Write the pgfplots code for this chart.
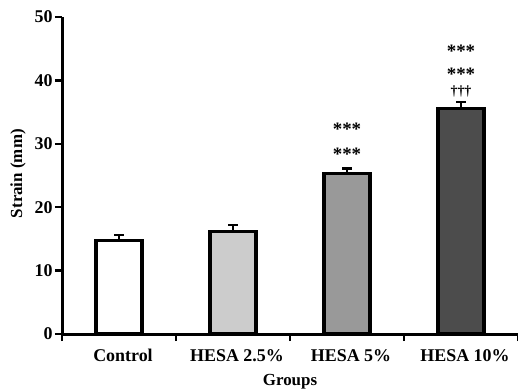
\documentclass[border=0pt]{standalone}
\usepackage{pgfplots}
\usepackage{pgfplotstable}
\pgfplotsset{compat=1.18}
\usepackage{fontspec}
\setmainfont{Liberation Serif}
\pgfplotstableread{
x y e
0 14.8 0.8
}\tctrl
\pgfplotstableread{
x y e
1 16.2 1.0
}\tlow
\pgfplotstableread{
x y e
2 25.3 0.8
}\tmid
\pgfplotstableread{
x y e
3 35.6 1.0
}\thigh
\begin{document}
\begin{tikzpicture}[x=1bp,y=1bp]
\useasboundingbox (0,0) rectangle (518,391);
\begin{axis}[
  at={(62bp,57bp)}, anchor=south west,
  scale only axis, width=456bp, height=317bp,
  xmin=-0.5, xmax=3.5, ymin=0, ymax=50,
  axis lines*=left,
  axis line style={line width=3bp, black},
  ybar, bar width=46bp, bar shift=0pt,
  ytick={0,10,20,30,40,50},
  /pgf/number format/assume math mode=true,
  tick align=outside, major tick length=7bp,
  tick style={line width=2.5bp, black},
  xtick={-0.5,0.5,1.5,2.5,3.5}, xticklabels={},
  extra x ticks={0,1,2,3},
  extra x tick labels={Control, HESA 2.5\%, HESA 5\%, HESA 10\%},
  extra x tick style={major tick length=0pt, xticklabel style={yshift=-12bp, xshift=4bp}},
  ticklabel style={font=\fontsize{18}{20}\selectfont\bfseries},
  yticklabel style={xshift=1bp},
  xlabel={Groups}, ylabel={Strain (mm)},
  label style={font=\fontsize{17}{19}\selectfont\bfseries},
  xlabel style={at={(axis description cs:0.5,-0.1514)}, anchor=center},
  ylabel style={at={(axis description cs:-0.0965,0.506)}, anchor=center},
  error bars/y dir=plus, error bars/y explicit,
  error bars/error bar style={line width=2.5bp, black},
  error bars/error mark options={rotate=90, mark size=5bp, line width=2.5bp, black},
]
\addplot[fill=white, draw=black, line width=3.2bp] table[x=x,y=y,y error=e]{\tctrl};
\addplot[fill=black!20, draw=black, line width=3.2bp] table[x=x,y=y,y error=e]{\tlow};
\addplot[fill=black!40, draw=black, line width=3.2bp] table[x=x,y=y,y error=e]{\tmid};
\addplot[fill=black!70, draw=black, line width=3.2bp] table[x=x,y=y,y error=e]{\thigh};
\node[font=\fontsize{19}{19}\selectfont\bfseries] at (axis cs:2,32.3) {***};
\node[font=\fontsize{19}{19}\selectfont\bfseries] at (axis cs:2,28.4) {***};
\node[font=\fontsize{19}{19}\selectfont\bfseries] at (axis cs:3,44.6) {***};
\node[font=\fontsize{19}{19}\selectfont\bfseries] at (axis cs:3,41.0) {***};
\node[font=\fontsize{14}{14}\selectfont\bfseries] at (axis cs:3,38.2) {†††};
\end{axis}
\end{tikzpicture}
\end{document}
